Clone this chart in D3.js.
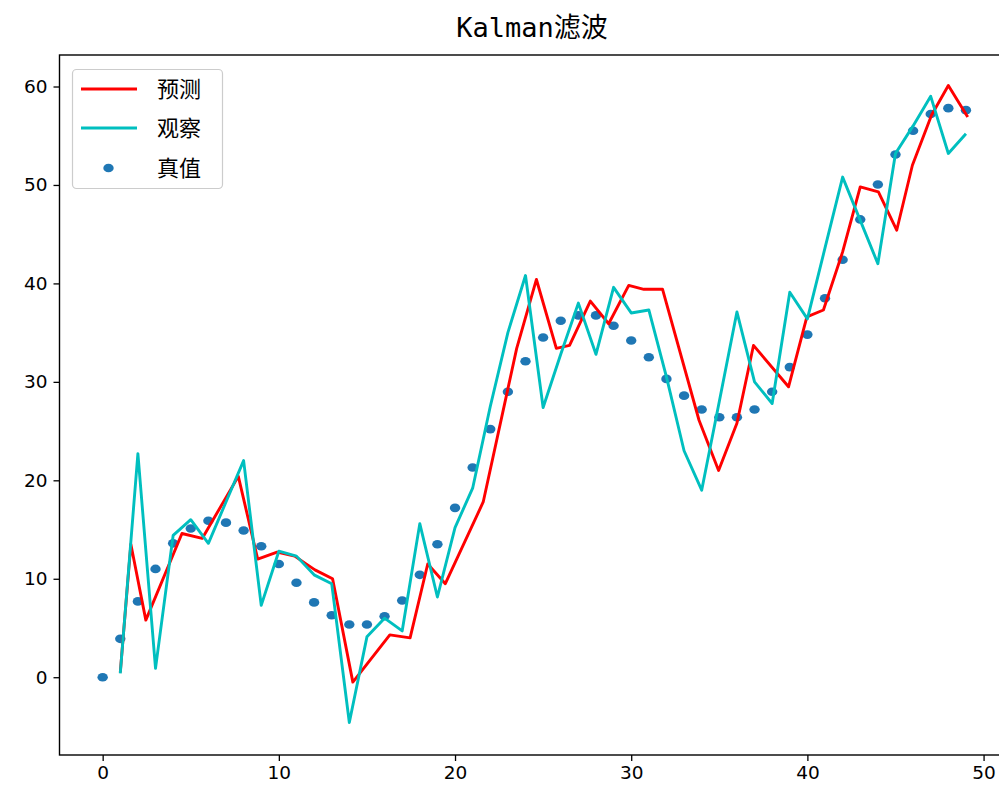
<!DOCTYPE html>
<html>
<head>
<meta charset="utf-8">
<script src="https://cdn.jsdelivr.net/npm/d3@7"></script>
<style>
  body { margin: 0; background: #fff; }
  svg { display: block; }
</style>
</head>
<body>
<svg id="chart" width="999" height="798"></svg>
<script>
// Kalman filter run: true state, noisy observations and filter predictions
const steps = d3.range(0, 50);
const trueVals = [
  0.0, 3.9, 7.7, 11.0, 13.6, 15.1, 15.9, 15.7, 14.9, 13.3,
  11.5, 9.6, 7.6, 6.3, 5.35, 5.35, 6.2, 7.8, 10.4, 13.5,
  17.2, 21.3, 25.2, 29.0, 32.1, 34.5, 36.2, 36.75, 36.75, 35.7,
  34.2, 32.5, 30.3, 28.6, 27.2, 26.4, 26.4, 27.2, 29.0, 31.5,
  34.8, 38.5, 42.4, 46.5, 50.05, 53.1, 55.5, 57.2, 57.8, 57.6
];

const obsSteps = d3.range(1, 50);
const obsVals = [
  0.4, 22.7, 0.9, 14.4, 16.0, 13.6, 17.8, 22.0, 7.3,
  12.8, 12.3, 10.4, 9.5, -4.6, 4.1, 6.0, 4.7, 15.6, 8.15,
  15.2, 19.2, 27.5, 35.0, 40.8, 27.4, 32.8, 38.0, 32.8, 39.6,
  37.0, 37.3, 30.5, 23.0, 19.0, 28.0, 37.1, 30.0, 27.8, 39.1,
  36.4, 43.6, 50.8, 46.4, 42.0, 53.2, 56.0, 59.0, 53.2, 55.2
];

const predSteps = [
  1.0, 1.6, 2.45, 4.5, 5.65, 7.7, 8.8, 9.9, 10.9, 12.05,
  13.05, 14.2, 16.3, 17.45, 18.45, 19.45, 21.6, 23.5, 24.62, 25.75,
  26.5, 27.68, 28.72, 29.86, 30.72, 31.78, 33.85, 34.96, 36.0, 36.94,
  38.93, 39.97, 40.91, 42.0, 43.0, 44.03, 45.07, 45.96, 47.05, 48.0,
  49.1
];
const predVals = [
  0.5, 13.5, 5.8, 14.6, 14.1, 20.4, 12.0, 12.7, 12.3, 10.9,
  10.0, -0.5, 4.3, 4.0, 11.5, 9.5, 17.8, 33.4, 40.4, 33.4,
  33.7, 38.2, 35.9, 39.8, 39.4, 39.4, 26.1, 21.0, 25.8, 33.7,
  29.5, 36.6, 37.3, 43.2, 49.8, 49.3, 45.4, 52.0, 57.1, 60.1,
  56.9
];

const xTicks = [0, 10, 20, 30, 40, 50];
const yTicks = [0, 10, 20, 30, 40, 50, 60];
const seriesNames = ["预测", "观察", "真值"];
const titleLatin = "Kalman";
const titleCjk = "滤波";

const colors = { pred: "#ff0000", obs: "#00bfbf", truth: "#1f77b4" };
const cjkFont = "'Noto Sans CJK SC', 'Noto Sans', sans-serif";
const tickFont = "'DejaVu Sans', sans-serif";

const svg = d3.select("#chart");
const plot = { left: 59.5, right: 1010, top: 55, bottom: 755 };

const x = d3.scaleLinear().domain([-2.45, 51.5]).range([plot.left, plot.right]);
const y = d3.scaleLinear().domain([-7.9, 63.2]).range([plot.bottom, plot.top]);

svg.append("rect").attr("width", 999).attr("height", 798).attr("fill", "#fff");

svg.append("defs").append("clipPath").attr("id", "plot-clip")
  .append("rect")
  .attr("x", plot.left).attr("y", plot.top)
  .attr("width", plot.right - plot.left).attr("height", plot.bottom - plot.top);

const layer = svg.append("g").attr("clip-path", "url(#plot-clip)");

// true values as dots (drawn beneath the lines)
layer.append("g").selectAll("ellipse")
  .data(steps)
  .join("ellipse")
  .attr("cx", i => x(i))
  .attr("cy", i => y(trueVals[i]))
  .attr("rx", 5.2).attr("ry", 4.3)
  .attr("fill", colors.truth);

const line = d3.line().x(d => x(d[0])).y(d => y(d[1]));

layer.append("path")
  .datum(predSteps.map((t, k) => [t, predVals[k]]))
  .attr("d", line)
  .attr("fill", "none")
  .attr("stroke", colors.pred)
  .attr("stroke-width", 2.9)
  .attr("stroke-linejoin", "round");

layer.append("path")
  .datum(obsSteps.map((t, k) => [t, obsVals[k]]))
  .attr("d", line)
  .attr("fill", "none")
  .attr("stroke", colors.obs)
  .attr("stroke-width", 2.9)
  .attr("stroke-linejoin", "round");

// axes
const xAxis = svg.append("g")
  .attr("transform", `translate(0,${plot.bottom})`)
  .call(d3.axisBottom(x).tickValues(xTicks).tickSize(6).tickPadding(5).tickFormat(d3.format("d")));
const yAxis = svg.append("g")
  .attr("transform", `translate(${plot.left},0)`)
  .call(d3.axisLeft(y).tickValues(yTicks).tickSize(6).tickPadding(6).tickFormat(d3.format("d")));

[xAxis, yAxis].forEach(g => {
  g.select(".domain").remove();
  g.selectAll(".tick line").attr("stroke", "#000").attr("stroke-width", 1.3);
  g.selectAll(".tick text")
    .attr("fill", "#000")
    .style("font-family", tickFont)
    .style("font-size", "18.5px");
});

// frame
svg.append("rect")
  .attr("x", plot.left).attr("y", plot.top)
  .attr("width", plot.right - plot.left).attr("height", plot.bottom - plot.top)
  .attr("fill", "none").attr("stroke", "#000").attr("stroke-width", 1.4);

// title
const title = svg.append("text")
  .attr("x", 532).attr("y", 37)
  .attr("text-anchor", "middle")
  .attr("fill", "#000")
  .style("font-size", "27px");
title.append("tspan").style("font-family", "'DejaVu Sans Mono', monospace").text(titleLatin);
title.append("tspan").style("font-family", cjkFont).text(titleCjk);

// legend
const legend = svg.append("g");
legend.append("rect")
  .attr("x", 72.5).attr("y", 69.5)
  .attr("width", 150).attr("height", 119)
  .attr("rx", 4)
  .attr("fill", "#fff").attr("fill-opacity", 0.8)
  .attr("stroke", "#cccccc").attr("stroke-width", 1.2);

const legendRows = [
  { name: seriesNames[0], kind: "line", color: colors.pred, cy: 89 },
  { name: seriesNames[1], kind: "line", color: colors.obs, cy: 128 },
  { name: seriesNames[2], kind: "dot", color: colors.truth, cy: 168 }
];
legendRows.forEach(r => {
  if (r.kind === "line") {
    legend.append("line")
      .attr("x1", 81).attr("x2", 137).attr("y1", r.cy).attr("y2", r.cy)
      .attr("stroke", r.color).attr("stroke-width", 2.9);
  } else {
    legend.append("ellipse")
      .attr("cx", 108.5).attr("cy", r.cy).attr("rx", 5.2).attr("ry", 4.3)
      .attr("fill", r.color);
  }
  legend.append("text")
    .attr("x", 157).attr("y", r.cy)
    .attr("dy", "0.36em")
    .attr("fill", "#000")
    .style("font-family", cjkFont)
    .style("font-size", "22px")
    .text(r.name);
});
</script>
</body>
</html>
